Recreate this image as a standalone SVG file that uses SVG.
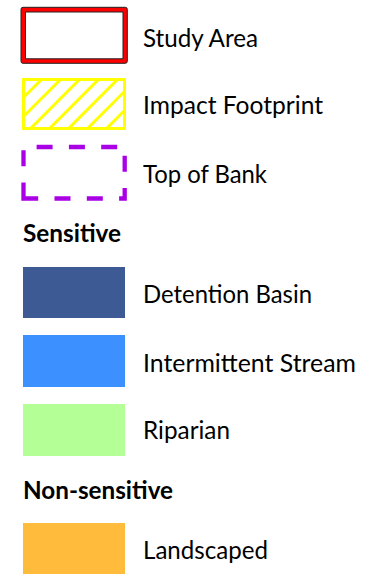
<svg xmlns="http://www.w3.org/2000/svg" width="390" height="576" viewBox="0 0 390 576">
  <style>
    .lbl { font-family: Lato, "Open Sans", "Liberation Sans", sans-serif; font-size: 25px; fill: #000; }
    .hdr { font-family: Lato, "Open Sans", "Liberation Sans", sans-serif; font-size: 25px; font-weight: bold; fill: #000; }
    .sw { stroke: none; }
  </style>
  <defs>
    <clipPath id="hatchClip">
      <rect x="23.5" y="79.5" width="101" height="49"/>
    </clipPath>
  </defs>
  <rect width="390" height="576" fill="#ffffff"/>

  <g id="study-area">
    <path d="M23,7.3 H125.3 Q127.3,7.3 127.3,9.3 V61.3 Q127.3,63.3 125.3,63.3 H23 Q21,63.3 21,61.3 V9.3 Q21,7.3 23,7.3 Z M25.5,12 V58.8 H123 V12 Z" fill="#FF0000" fill-rule="evenodd" stroke="#222" stroke-width="1"/>
    <text class="lbl" x="143" y="47" textLength="115" lengthAdjust="spacingAndGlyphs">Study Area</text>
  </g>

  <g id="impact-footprint">
    <g clip-path="url(#hatchClip)" stroke="#FFFF00" stroke-width="3">
      <line x1="-27" y1="129" x2="23" y2="79"/>
      <line x1="-8" y1="129" x2="42" y2="79"/>
      <line x1="11" y1="129" x2="61" y2="79"/>
      <line x1="30" y1="129" x2="80" y2="79"/>
      <line x1="49" y1="129" x2="99" y2="79"/>
      <line x1="68" y1="129" x2="118" y2="79"/>
      <line x1="87" y1="129" x2="137" y2="79"/>
      <line x1="106" y1="129" x2="156" y2="79"/>
      <line x1="125" y1="129" x2="175" y2="79"/>
    </g>
    <rect x="23.5" y="79.5" width="101" height="49" fill="none" stroke="#FFFF00" stroke-width="3"/>
    <text class="lbl" x="143" y="114" textLength="180" lengthAdjust="spacingAndGlyphs">Impact Footprint</text>
  </g>

  <g id="top-of-bank">
    <path d="M23.5,198.5 V147 H124.7 V198.5 Z" fill="none" stroke="#A900E6" stroke-width="4.3" stroke-dasharray="16 16.3" stroke-linejoin="miter"/>
    <text class="lbl" x="143" y="183" textLength="124" lengthAdjust="spacingAndGlyphs">Top of Bank</text>
  </g>

  <g id="sensitive-header">
    <text class="hdr" x="23" y="242" textLength="98" lengthAdjust="spacingAndGlyphs">Sensitive</text>
  </g>

  <g id="detention-basin">
    <rect class="sw" x="23" y="267" width="102" height="51" fill="#3D5A94"/>
    <text class="lbl" x="143" y="302.5" textLength="169" lengthAdjust="spacingAndGlyphs">Detention Basin</text>
  </g>

  <g id="intermittent-stream">
    <rect class="sw" x="23" y="335" width="102" height="52" fill="#3D90FF"/>
    <text class="lbl" x="143" y="371.7" textLength="213" lengthAdjust="spacingAndGlyphs">Intermittent Stream</text>
  </g>

  <g id="riparian">
    <rect class="sw" x="23" y="404" width="102" height="52" fill="#B4FF96"/>
    <text class="lbl" x="143" y="439" textLength="87" lengthAdjust="spacingAndGlyphs">Riparian</text>
  </g>

  <g id="non-sensitive-header">
    <text class="hdr" x="23" y="499" textLength="150" lengthAdjust="spacingAndGlyphs">Non-sensitive</text>
  </g>

  <g id="landscaped">
    <rect class="sw" x="23" y="523" width="102" height="51" fill="#FFBC3C"/>
    <text class="lbl" x="143" y="559" textLength="125" lengthAdjust="spacingAndGlyphs">Landscaped</text>
  </g>

  <g id="connectors"/>
</svg>
